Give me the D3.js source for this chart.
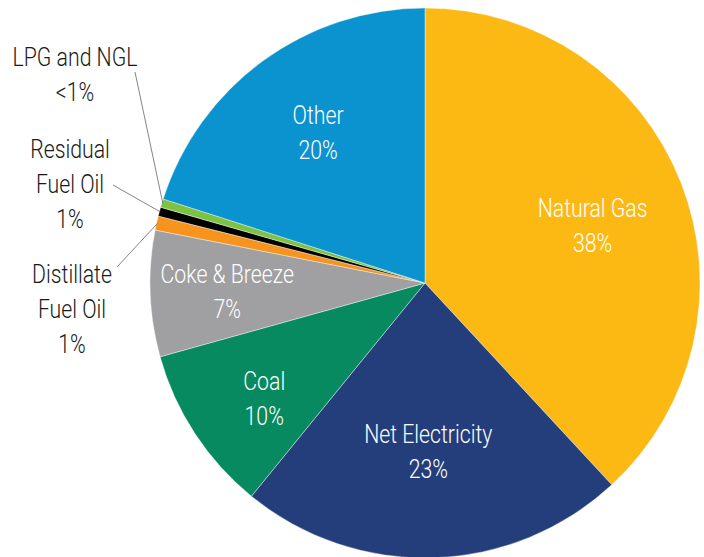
<!DOCTYPE html>
<html><head><meta charset="utf-8">
<script src="https://cdn.jsdelivr.net/npm/d3@7"></script>
<style>
html,body{margin:0;padding:0;background:#fff;}
text{font-family:"Roboto","Liberation Sans",sans-serif;font-weight:300;}
</style></head>
<body><svg id="c" width="704" height="557"></svg>
<script>
const categories = ["Natural Gas","Net Electricity","Coal","Coke & Breeze","Distillate Fuel Oil","Residual Fuel Oil","LPG and NGL","Other"];
const values = [38.1, 22.75, 9.8, 7.4, 0.83, 0.53, 0.5, 20.05];
const valueLabels = ["38%","23%","10%","7%","1%","1%","<1%","20%"];
const colors = ["#fdb913","#233e7b","#078a60","#a0a0a2","#f7941d","#000000","#7dc242","#0a93cf"];

const svg = d3.select("#c");
const cx = 425, cy = 283, R = 275;
const FS = 25, SX = 0.85, LH = 35;
const g = svg.append("g").attr("transform", `translate(${cx},${cy})`);

const data = categories.map((c,i)=>({name:c, value:values[i], label:valueLabels[i], color:colors[i]}));
const pie = d3.pie().value(d=>d.value).sort(null);
const arcs = pie(data);
const arc = d3.arc().innerRadius(0).outerRadius(R);

g.selectAll("path").data(arcs).join("path")
  .attr("d", arc).attr("fill", d=>d.data.color)
  .attr("stroke","#fff").attr("stroke-width",0.4);

function writeLines(x, y0, lines, fill){
  const t = g.append("text").attr("text-anchor","middle").attr("fill",fill)
    .attr("font-size",FS).attr("transform",`translate(${x},${y0}) scale(${SX},1)`);
  lines.forEach((l,i)=>t.append("tspan").attr("x",0).attr("y",i*LH).text(l));
}

// inside labels: radius and small angular nudge (degrees)
const inside = {"Natural Gas":{r:177,da:2.6},"Net Electricity":{r:169,da:0.7},
  "Coal":{r:198,da:-2.5},"Coke & Breeze":{r:198,da:-0.3},"Other":{r:184,da:0.6}};
arcs.forEach(a=>{
  const s = inside[a.data.name]; if(!s) return;
  const ang = (a.startAngle + a.endAngle)/2 + s.da*Math.PI/180;
  const x = s.r*Math.sin(ang), y = -s.r*Math.cos(ang);
  writeLines(x, y - 9, [a.data.name, a.data.label], "#fff");
});

// outside labels
const outside = {
  "LPG and NGL":{x:75,y:66,lines:["LPG and NGL"],lx:135,ly:72},
  "Residual Fuel Oil":{x:70,y:158,lines:["Residual","Fuel Oil"],lx:113,ly:185},
  "Distillate Fuel Oil":{x:72,y:283,lines:["Distillate","Fuel Oil"],lx:117,ly:267}
};
arcs.forEach(a=>{
  const s = outside[a.data.name]; if(!s) return;
  const p = d3.arc().innerRadius(R-1).outerRadius(R-1).centroid(a);
  g.append("line").attr("x1",s.lx-cx).attr("y1",s.ly-cy).attr("x2",p[0]).attr("y2",p[1])
    .attr("stroke","#777").attr("stroke-width",0.9);
  writeLines(s.x-cx, s.y-cy, s.lines.concat([a.data.label]), "#1a1a1a");
});
</script></body></html>
